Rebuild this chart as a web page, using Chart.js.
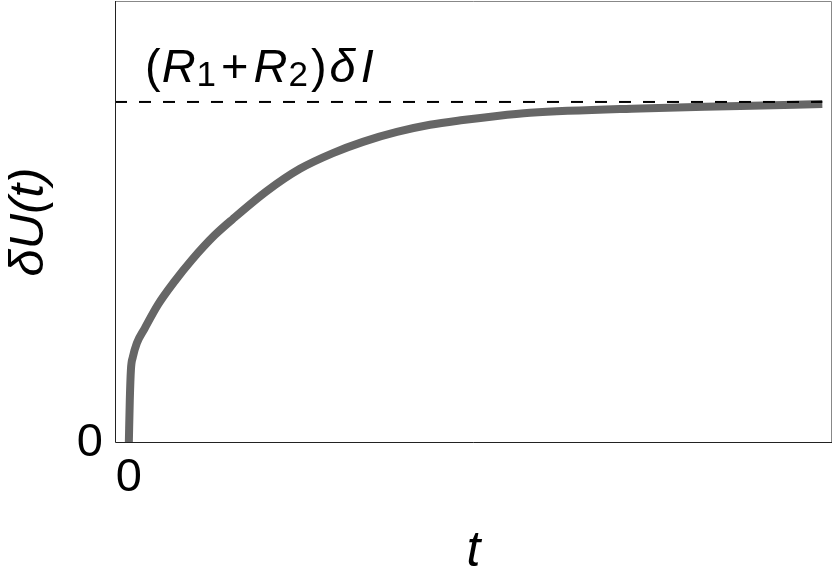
<!DOCTYPE html>
<html>
<head>
<meta charset="utf-8">
<script src="https://cdn.jsdelivr.net/npm/chart.js@4.4.1/dist/chart.umd.min.js"></script>
<style>
  html,body{margin:0;padding:0;background:#fff;}
  #wrap{width:834px;height:583px;}
</style>
</head>
<body>
<div id="wrap"><canvas id="c" width="834" height="583"></canvas></div>
<script>
// values (t in arbitrary units, dU normalised to the asymptote)
const curveT = [0, 0.014, 0.03, 0.058, 0.116, 0.232, 0.42, 0.666, 0.912, 1.245, 1.505, 1.997, 2.475, 2.952, 3.386, 3.878, 4.356, 4.833, 5.326, 5.803, 7.395, 8.842, 10.03];
const curveU = [0, 0.126, 0.214, 0.252, 0.293, 0.337, 0.405, 0.475, 0.537, 0.610, 0.657, 0.739, 0.804, 0.850, 0.883, 0.912, 0.933, 0.947, 0.959, 0.968, 0.981, 0.988, 0.994];
const limitT = [-0.2, 10.03];
const limitU = [1, 1];
const xTicks = [0];
const yTicks = [0];

const FONT = '"Liberation Sans", Arial, sans-serif';

const pts = (xs, ys) => xs.map((x, i) => ({x, y: ys[i]}));

// frame + the (R1+R2)δI label
const decor = {
  id: 'decor',
  afterDraw(chart){
    const {ctx, chartArea:a} = chart;
    ctx.save();
    ctx.lineWidth = 1;
    ctx.strokeStyle = '#888';
    ctx.beginPath();
    ctx.moveTo(a.left, a.top + 0.5); ctx.lineTo(a.right - 0.5, a.top + 0.5); ctx.lineTo(a.right - 0.5, a.bottom);
    ctx.stroke();
    ctx.strokeStyle = '#222';
    ctx.beginPath();
    ctx.moveTo(a.left + 0.5, a.top); ctx.lineTo(a.left + 0.5, a.bottom - 0.5); ctx.lineTo(a.right, a.bottom - 0.5);
    ctx.stroke();

    // label pieces: text, style, size, baseline shift, gap after
    const parts = [
      ['(', 'normal', 47, 0, 1],
      ['R', 'italic', 47, 0, 1],
      ['1', 'normal', 35, 4, 5],
      ['+', 'normal', 47, 0, 5],
      ['R', 'italic', 47, 0, 1],
      ['2', 'normal', 35, 4, 3],
      [')', 'normal', 47, 0, 3],
      ['δ', 'italic', 47, 0, 5],
      ['I', 'italic', 47, 0, 0]
    ];
    let x = 145;
    ctx.fillStyle = '#000';
    ctx.textBaseline = 'alphabetic';
    parts.forEach(([s, st, sz, dy, gap]) => {
      ctx.font = st + ' ' + sz + 'px ' + FONT;
      ctx.fillText(s, x, 82 + dy);
      x += ctx.measureText(s).width + gap;
    });
    ctx.restore();
  }
};

new Chart(document.getElementById('c'), {
  type: 'scatter',
  data: {
    datasets: [
      {data: pts(limitT, limitU), showLine: true, borderColor: '#000', borderWidth: 2, borderDash: [12, 12], pointRadius: 0},
      {data: pts(curveT, curveU), showLine: true, borderColor: '#666', borderWidth: 8, pointRadius: 0,
       cubicInterpolationMode: 'monotone', borderCapStyle: 'butt', borderJoinStyle: 'round'}
    ]
  },
  options: {
    responsive: false,
    animation: false,
    layout: {padding: {top: 1, right: 2, left: 0, bottom: 0}},
    plugins: {legend: {display: false}, tooltip: {enabled: false}},
    scales: {
      x: {
        type: 'linear', min: -0.2, max: 10.17,
        afterFit(s){ s.height = 140; s.paddingLeft = 0; s.paddingRight = 0; },
        afterBuildTicks(s){ s.ticks = xTicks.map(v => ({value: v})); },
        grid: {display: false, drawTicks: false},
        border: {display: false},
        ticks: {color: '#000', padding: 7, font: {size: 47, family: FONT}, maxRotation: 0},
        title: {display: true, text: 't', color: '#000', padding: {top: 0, bottom: 1},
                font: {size: 50, family: FONT, style: 'italic'}}
      },
      y: {
        type: 'linear', min: 0, max: 1.296,
        afterFit(s){ s.width = 115; s.paddingTop = 0; s.paddingBottom = 0; },
        afterBuildTicks(s){ s.ticks = yTicks.map(v => ({value: v})); },
        grid: {display: false, drawTicks: false},
        border: {display: false},
        ticks: {color: '#000', padding: 12, font: {size: 47, family: FONT}},
        title: {display: true, text: 'δU(t)', color: '#000', padding: {top: 0, bottom: 0},
                font: {size: 49, family: FONT, style: 'italic'}}
      }
    }
  },
  plugins: [decor]
});
</script>
</body>
</html>
